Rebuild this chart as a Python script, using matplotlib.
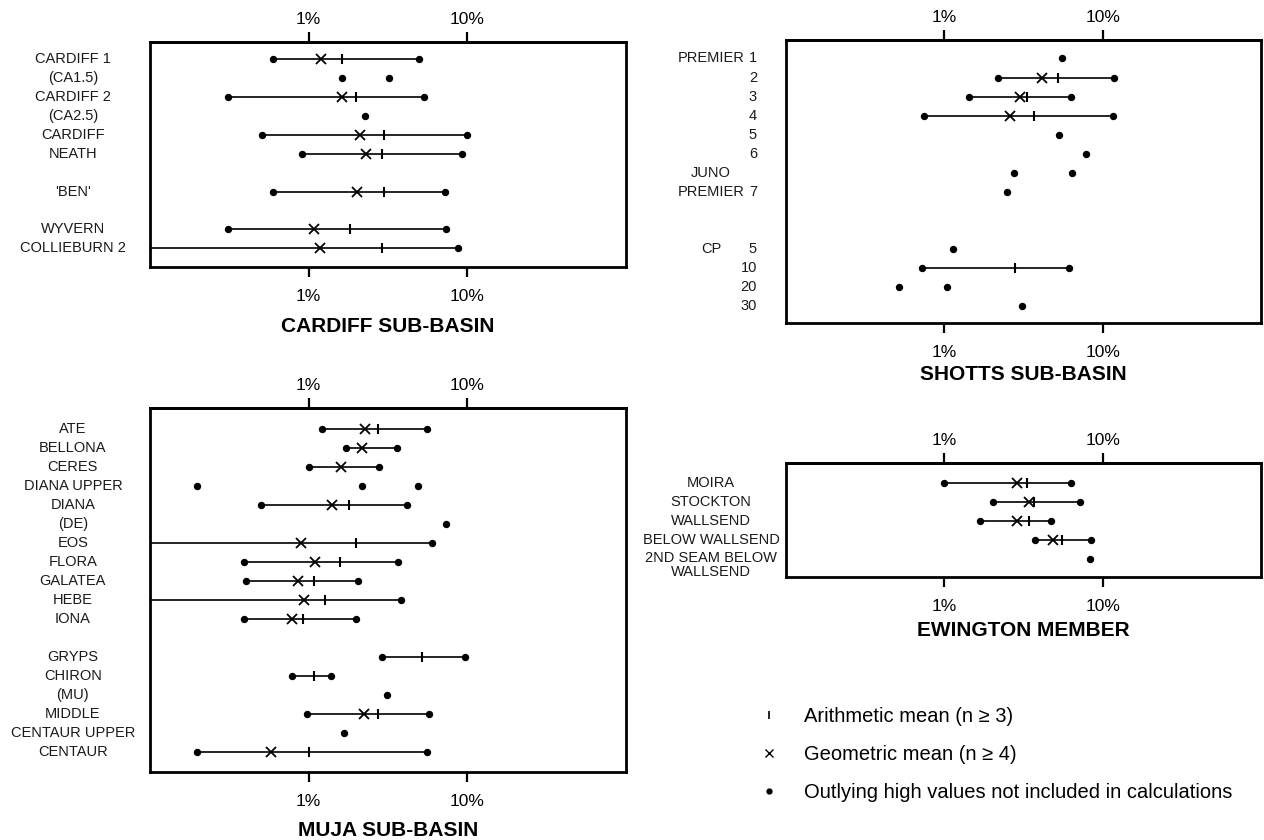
import numpy as np
import matplotlib.pyplot as plt
from matplotlib.lines import Line2D
from matplotlib.ticker import NullLocator

plt.rcParams['font.family'] = ['Liberation Sans', 'DejaVu Sans']

nan = np.nan

# values in percent; 0.05 = below the plotted range (line runs off the left edge)
# CARDIFF SUB-BASIN
cardiff_labels = ["CARDIFF 1", "(CA1.5)", "CARDIFF 2", "(CA2.5)", "CARDIFF", "NEATH",
                  "", "'BEN'", "", "WYVERN", "COLLIEBURN 2"]
cardiff_low = [0.60, nan, 0.31, nan, 0.51, 0.91, nan, 0.60, nan, 0.31, 0.05]
cardiff_geo = [1.19, nan, 1.62, nan, 2.10, 2.30, nan, 2.02, nan, 1.08, 1.18]
cardiff_arith = [1.62, nan, 2.00, nan, 2.98, 2.90, nan, 2.98, nan, 1.82, 2.90]
cardiff_high = [4.95, nan, 5.30, nan, 10.0, 9.20, nan, 7.20, nan, 7.30, 8.70]
cardiff_extra = [[], [1.62, 3.2], [], [2.25], [], [], [], [], [], [], []]

# SHOTTS SUB-BASIN
shotts_names = ["PREMIER", "", "", "", "", "", "JUNO", "PREMIER", "", "", "CP", "", "", ""]
shotts_nums = ["1", "2", "3", "4", "5", "6", "", "7", "", "", "5", "10", "20", "30"]
shotts_low = [nan, 2.17, 1.43, 0.74, nan, nan, nan, nan, nan, nan, nan, 0.72, nan, nan]
shotts_geo = [nan, 4.15, 3.00, 2.60, nan, nan, nan, nan, nan, nan, nan, nan, nan, nan]
shotts_arith = [nan, 5.20, 3.35, 3.70, nan, nan, nan, nan, nan, nan, nan, 2.80, nan, nan]
shotts_high = [nan, 11.8, 6.30, 11.7, nan, nan, nan, nan, nan, nan, nan, 6.10, nan, nan]
shotts_extra = [[5.5], [], [], [], [5.3], [7.8], [2.75, 6.4], [2.5], [], [],
                [1.13], [], [0.52, 1.04], [3.1]]

# MUJA SUB-BASIN
muja_labels = ["ATE", "BELLONA", "CERES", "DIANA UPPER", "DIANA", "(DE)", "EOS", "FLORA",
               "GALATEA", "HEBE", "IONA", "", "GRYPS", "CHIRON", "(MU)", "MIDDLE",
               "CENTAUR UPPER", "CENTAUR"]
muja_low = [1.22, 1.72, 1.00, nan, 0.50, nan, 0.05, 0.39, 0.40, 0.05, 0.39, nan,
            2.90, 0.79, nan, 0.98, nan, 0.197]
muja_geo = [2.28, 2.18, 1.59, nan, 1.41, nan, 0.90, 1.09, 0.855, 0.93, 0.78, nan,
            nan, nan, nan, 2.22, nan, 0.575]
muja_arith = [2.73, nan, nan, nan, 1.79, nan, 1.99, 1.57, 1.08, 1.26, 0.92, nan,
              5.18, 1.08, nan, 2.73, nan, 1.00]
muja_high = [5.54, 3.58, 2.76, nan, 4.17, nan, 5.96, 3.67, 2.06, 3.81, 1.99, nan,
             9.70, 1.38, nan, 5.73, nan, 5.57]
muja_extra = [[], [], [], [0.197, 2.16, 4.87], [], [7.36], [], [], [], [], [], [],
              [], [], [3.1], [], [1.67], []]

# EWINGTON MEMBER
ewington_labels = ["MOIRA", "STOCKTON", "WALLSEND", "BELOW WALLSEND", "2ND SEAM BELOW\nWALLSEND"]
ewington_low = [1.00, 2.04, 1.69, 3.73, nan]
ewington_geo = [2.86, 3.45, 2.86, 4.84, nan]
ewington_arith = [3.34, 3.66, 3.45, 5.57, nan]
ewington_high = [6.27, 7.22, 4.75, 8.43, nan]
ewington_extra = [[], [], [], [], [8.27]]

W, H = 1264, 840
fig = plt.figure(figsize=(W / 100, H / 100), dpi=100)


def px_axes(left, top, right, bottom):
    return fig.add_axes([left / W, 1 - bottom / H, (right - left) / W, (bottom - top) / H])


def draw_panel(ax, low, geo, arith, high, extra, ylim, title, title_off):
    y = np.arange(len(low))
    for i in y:
        if not np.isnan(low[i]):
            ax.plot([low[i], high[i]], [i, i], color='k', lw=1.2,
                    marker='o', ms=4.3, solid_capstyle='butt')
        if extra[i]:
            ax.plot(extra[i], [i] * len(extra[i]), 'o', color='k', ms=4.3)
    ax.plot(geo, y, 'x', color='k', ms=7, mew=1.3)
    ax.plot(arith, y, '|', color='k', ms=7.5, mew=1.5)

    ax.set_xscale('log')
    ax.set_xlim(0.1, 100)
    ax.set_ylim(*ylim)
    ax.set_xticks([1, 10])
    ax.set_xticklabels(['1%', '10%'])
    ax.xaxis.set_minor_locator(NullLocator())
    ax.set_yticks([])
    ax.tick_params(axis='x', direction='out', length=7, width=1.6,
                   labelsize=12.5, pad=8.5)
    for s in ax.spines.values():
        s.set_linewidth(2)

    top = ax.secondary_xaxis('top')
    top.set_xticks([1, 10])
    top.set_xticklabels(['1%', '10%'])
    top.xaxis.set_minor_locator(NullLocator())
    top.tick_params(direction='out', length=7, width=1.6, labelsize=12.5, pad=3.5)
    top.spines['top'].set_linewidth(2)

    ax.annotate(title, xy=(0.5, 0), xycoords='axes fraction',
                xytext=(0, -title_off * 0.72), textcoords='offset points',
                ha='center', va='center', fontsize=15, fontweight='bold')


lab_kw = dict(fontsize=10.5, color='#1a1a1a', va='center')

# Cardiff
ax1 = px_axes(150, 42, 626, 267)
draw_panel(ax1, cardiff_low, cardiff_geo, cardiff_arith, cardiff_high, cardiff_extra,
           (10.99, -0.92), 'CARDIFF SUB-BASIN', 60)
for i, t in enumerate(cardiff_labels):
    ax1.text(-0.162, i, t, transform=ax1.get_yaxis_transform(), ha='center', **lab_kw)

# Shotts
ax2 = px_axes(786, 40, 1261, 323)
draw_panel(ax2, shotts_low, shotts_geo, shotts_arith, shotts_high, shotts_extra,
           (13.89, -0.97), 'SHOTTS SUB-BASIN', 52)
for i, (a, b) in enumerate(zip(shotts_names, shotts_nums)):
    ax2.text(-0.158, i, a, transform=ax2.get_yaxis_transform(), ha='center', **lab_kw)
    ax2.text(-0.061, i, b, transform=ax2.get_yaxis_transform(), ha='right', **lab_kw)

# Muja
ax3 = px_axes(150, 408, 626, 772)
draw_panel(ax3, muja_low, muja_geo, muja_arith, muja_high, muja_extra,
           (18.05, -1.1), 'MUJA SUB-BASIN', 58)
for i, t in enumerate(muja_labels):
    ax3.text(-0.162, i, t, transform=ax3.get_yaxis_transform(), ha='center', **lab_kw)

# Ewington
ax4 = px_axes(786, 463, 1261, 577)
draw_panel(ax4, ewington_low, ewington_geo, ewington_arith, ewington_high, ewington_extra,
           (4.94, -1.03), 'EWINGTON MEMBER', 53)
for i, t in enumerate(ewington_labels):
    yy = i + 0.3 if '\n' in t else i
    ax4.text(-0.158, yy, t, transform=ax4.get_yaxis_transform(), ha='center',
             linespacing=1.05, **lab_kw)

# legend
handles = [Line2D([], [], ls='none', marker='|', color='k', ms=6, mew=1.2),
           Line2D([], [], ls='none', marker='x', color='k', ms=5.5, mew=1.0),
           Line2D([], [], ls='none', marker='o', color='k', ms=3.5)]
legend_labels = ['Arithmetic mean (n \u2265 3)', 'Geometric mean (n \u2265 4)',
                 'Outlying high values not included in calculations']
fig.legend(handles, legend_labels, loc='upper left', bbox_to_anchor=(761 / W, 1 - 707 / H),
           frameon=False, fontsize=14.5, handlelength=0.8, handletextpad=1.35,
           labelspacing=0.95, borderpad=0, borderaxespad=0)

fig.savefig('out.png', dpi=100)
